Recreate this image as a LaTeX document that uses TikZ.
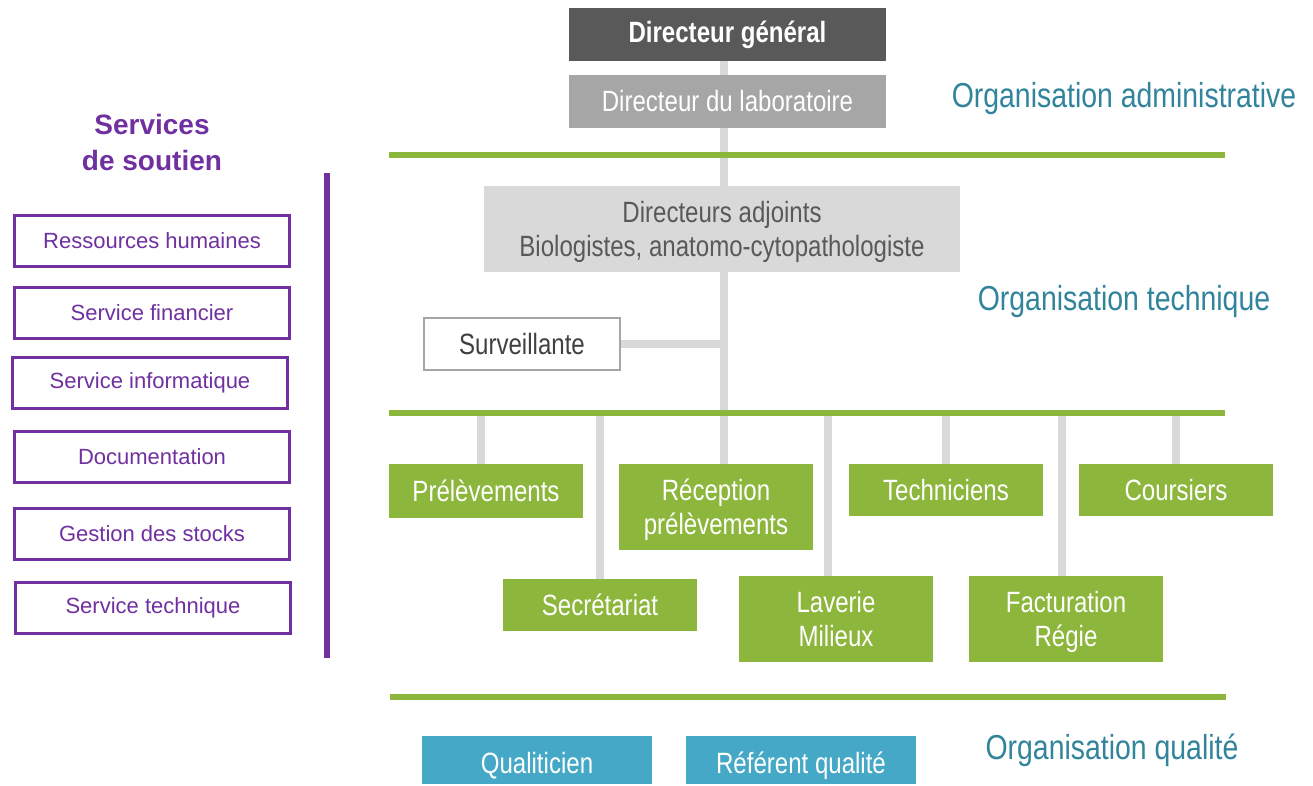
\documentclass[tikz,border=0pt]{standalone}
\usepackage{fontspec}
\setmainfont{Liberation Sans}
\newfontfamily\nar[FakeStretch=0.82]{Liberation Sans}
\usetikzlibrary{backgrounds}
\definecolor{dkgray}{HTML}{595959}
\definecolor{mdgray}{HTML}{A6A6A6}
\definecolor{ltgray}{HTML}{D9D9D9}
\definecolor{grn}{HTML}{8DB63C}
\definecolor{qblue}{HTML}{44A8C6}
\definecolor{teal}{HTML}{31849B}
\definecolor{purp}{HTML}{7030A0}
\definecolor{txtgray}{HTML}{404040}
\tikzset{
  sz/.style 2 args={minimum width=#1*0.75pt, minimum height=#2*0.75pt, inner sep=0pt},
  chart/.style={font=\nar\fontsize{22}{25.5}\selectfont, align=center, text=white},
  multi/.style={text depth=0pt},
  gbox/.style={chart, fill=grn},
  qbox/.style={chart, fill=qblue, text height=20.5pt, text depth=0pt},
  sbox/.style={draw=purp, line width=2.25pt, fill=white, text=purp, inner sep=0pt,
    font=\fontsize{16.5}{19}\selectfont, minimum width=275*0.75pt, minimum height=51*0.75pt},
  conn/.style={ltgray, line width=6pt},
  gline/.style={grn, line width=4.5pt},
  orglabel/.style={text=teal, font=\nar\fontsize{26}{30}\selectfont, inner sep=0pt},
}
\begin{document}
\begin{tikzpicture}[x=0.75pt, y=-0.75pt]
\useasboundingbox (0,0) rectangle (1313,785);
% top
\node[chart, fill=dkgray, sz={317}{53}, font=\nar\bfseries\fontsize{22}{25.5}\selectfont] (dg) at (727.5,34.5) {Directeur général};
\node[chart, fill=mdgray, sz={317}{53}] (dl) at (727.5,101.5) {Directeur du laboratoire};
\node[chart, multi, fill=ltgray, text=dkgray, sz={476}{86}] (da) at (722,229) {Directeurs adjoints\\Biologistes, anatomo-cytopathologiste};
\node[chart, fill=white, draw=mdgray, line width=1.5pt, text=txtgray, sz={196}{52}] (sv) at (522,344) {Surveillante};
% green boxes
\node[gbox, sz={194}{54}] (pre) at (486,491) {Prélèvements};
\node[gbox, multi, sz={194}{86}] (rec) at (716,507) {Réception\\prélèvements};
\node[gbox, sz={194}{52}] (tec) at (946,490) {Techniciens};
\node[gbox, sz={194}{52}] (cou) at (1176,490) {Coursiers};
\node[gbox, sz={194}{52}] (sec) at (600,605) {Secrétariat};
\node[gbox, multi, sz={194}{86}] (lav) at (836,619) {Laverie\\Milieux};
\node[gbox, multi, sz={194}{86}] (fac) at (1066,619) {Facturation\\Régie};
% quality
\node[qbox, sz={230}{48}] (qua) at (537,760) {Qualiticien};
\node[qbox, sz={230}{48}] (ref) at (801,760) {Référent qualité};
% labels
\node[orglabel] (oa) at (1124,99) {Organisation administrative};
\node[orglabel] (ot) at (1124,302) {Organisation technique};
\node[orglabel] (oq) at (1112,750) {Organisation qualité};
% green lines
\coordinate (g1a) at (389,155); \coordinate (g1b) at (1225,155);
\coordinate (g2a) at (389,413); \coordinate (g2b) at (1225,413);
\coordinate (g3a) at (390,697); \coordinate (g3b) at (1226,697);
\coordinate (spine) at (724,0);
\coordinate (b1) at (481,413);
\coordinate (b2) at (600,413);
\coordinate (b4) at (828,413);
\coordinate (b5) at (946,413);
\coordinate (b6) at (1062,413);
\coordinate (b7) at (1176,413);
\begin{scope}[on background layer]
\draw[conn] (spine |- dg.south) -- (spine |- rec.north);
\draw[conn] (sv.east) -- (sv.east -| spine);
\draw[conn] (b1) -- (b1 |- pre.north);
\draw[conn] (b2) -- (b2 |- sec.north);
\draw[conn] (b4) -- (b4 |- lav.north);
\draw[conn] (b5) -- (b5 |- tec.north);
\draw[conn] (b6) -- (b6 |- fac.north);
\draw[conn] (b7) -- (b7 |- cou.north);
\end{scope}
\draw[gline] (g1a) -- (g1b);
\draw[gline] (g2a) -- (g2b);
\draw[gline] (g3a) -- (g3b);
% left column
\node[text=purp, align=center, font=\bfseries\fontsize{21}{27}\selectfont] (ss) at (152,142) {Services\\de soutien};
\coordinate (pa) at (327,173); \coordinate (pb) at (327,658);
\draw[purp, line width=5pt] (pa) -- (pb);
\node[sbox] (rh) at (152,241) {Ressources humaines};
\node[sbox] (sf) at (152,312.5) {Service financier};
\node[sbox] (si) at (150,382.5) {Service informatique};
\node[sbox] (doc) at (152,456.5) {Documentation};
\node[sbox] (gs) at (152,533.5) {Gestion des stocks};
\node[sbox] (st) at (153,607.5) {Service technique};
\end{tikzpicture}
\end{document}
